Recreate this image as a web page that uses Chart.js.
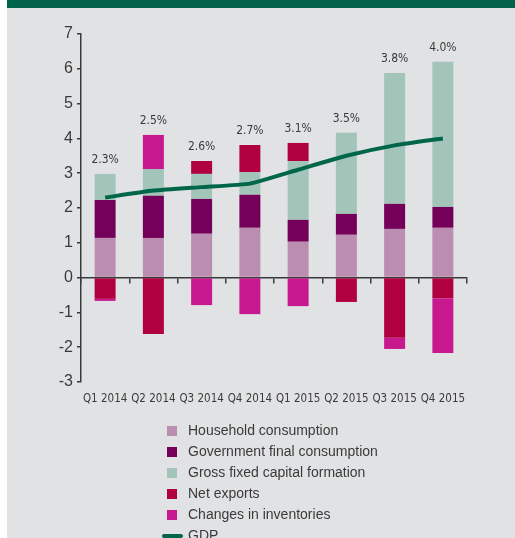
<!DOCTYPE html>
<html>
<head>
<meta charset="utf-8">
<script src="https://cdn.jsdelivr.net/npm/chart.js@4/dist/chart.umd.min.js"></script>
<style>
  html, body { margin:0; padding:0; background:#ffffff; width:515px; height:538px; overflow:hidden; }
  #panel { position:absolute; left:7px; top:0; width:508px; height:538px; background:#e1e2e4; overflow:hidden; }
  #band { position:absolute; left:0; top:0; width:508px; height:8px; background:#00634a; }
  #wrap { position:absolute; left:0; top:8px; width:508px; height:410px; }
  #legend { position:absolute; left:0; top:0; width:508px; height:538px; pointer-events:none; }
  .row { position:absolute; left:181px; height:21px; line-height:21px; font-family:"Liberation Sans", Arial, sans-serif; font-size:14px; color:#3a3a3a; white-space:nowrap; }
  .box { position:absolute; width:10px; height:10px; }
  .ln { position:absolute; width:21px; height:4px; border-radius:2px; }
</style>
</head>
<body>
<div id="panel">
  <div id="band"></div>
  <div id="wrap"><canvas id="c" width="508" height="410"></canvas></div>
  <div id="legend"></div>
</div>
<script>
// ---- data ----
const categories = ['Q1 2014','Q2 2014','Q3 2014','Q4 2014','Q1 2015','Q2 2015','Q3 2015','Q4 2015'];
const household   = [1.14, 1.14, 1.26, 1.43, 1.03, 1.23, 1.40, 1.43];
const government  = [1.09, 1.21, 1.00, 0.95, 0.63, 0.60, 0.72, 0.60];
const grossFixed  = [0.75, 0.77, 0.72, 0.65, 1.69, 2.33, 3.76, 4.17];
const netExports  = [-0.61, -1.62, 0.37, 0.78, 0.52, -0.70, -1.73, -0.59];
const inventories = [-0.06, 0.98, -0.79, -1.05, -0.82, 0.00, -0.32, -1.58];
const gdp         = [2.3, 2.5, 2.6, 2.7, 3.1, 3.5, 3.8, 4.0];
const seriesNames = ['Household consumption','Government final consumption','Gross fixed capital formation','Net exports','Changes in inventories','GDP'];
const yTicks = [-3,-2,-1,0,1,2,3,4,5,6,7];

const colors = ['#bb8db0','#75005a','#a3c4b8','#b0003f','#c8188f','#00664a'];
const narrow = '"DejaVu Sans Condensed", "Liberation Sans", sans-serif';
const textCol = '#3a3a3a';
const axisCol = '#3a3a3a';

const barSeries = [household, government, grossFixed, netExports, inventories];
const datasets = barSeries.map((d, i) => ({
  type: 'bar',
  label: seriesNames[i],
  data: d,
  backgroundColor: colors[i],
  borderWidth: 0,
  stack: 's',
  order: 1,
  barPercentage: 0.435,
  categoryPercentage: 1.0
}));
datasets.push({
  type: 'line',
  label: seriesNames[5],
  data: gdp,
  borderColor: colors[5],
  backgroundColor: colors[5],
  borderWidth: 4,
  pointRadius: 0,
  tension: 0.15,
  stack: 'gdp',
  order: 0
});

const gdpLabels = {
  id: 'gdpLabels',
  afterDatasetsDraw(chart) {
    const ctx = chart.ctx;
    const xs = chart.scales.x, ys = chart.scales.y;
    ctx.save();
    ctx.font = '12px ' + narrow;
    ctx.fillStyle = textCol;
    ctx.textAlign = 'center';
    ctx.textBaseline = 'alphabetic';
    categories.forEach((c, i) => {
      let top = 0;
      barSeries.forEach(s => { if (s[i] > 0) top += s[i]; });
      const x = xs.getPixelForValue(i);
      const y = ys.getPixelForValue(top);
      ctx.fillText(gdp[i].toFixed(1) + '%', x, y - 11);
    });
    ctx.restore();
  }
};

const chart = new Chart(document.getElementById('c'), {
  data: { labels: categories, datasets },
  options: {
    responsive: false,
    devicePixelRatio: 1,
    animation: false,
    layout: { padding: { left: 0, right: 48, top: 26, bottom: 0 } },
    plugins: { legend: { display: false }, tooltip: { enabled: false } },
    scales: {
      x: {
        type: 'category',
        stacked: true,
        position: 'bottom',
        grid: { display: false, drawTicks: false, tickLength: 0 },
        border: { display: false },
        ticks: { color: textCol, font: { family: narrow, size: 11.5 }, padding: 10, maxRotation: 0, autoSkip: false },
        afterFit(s) { s.height = 36; }
      },
      x0: {
        type: 'category',
        labels: categories,
        position: { y: 0 },
        offset: true,
        grid: { display: true, drawOnChartArea: false, drawTicks: true, tickLength: 5, color: axisCol, lineWidth: 1.5, offset: true },
        border: { display: true, color: axisCol, width: 1.5 },
        ticks: { display: false }
      },
      y: {
        stacked: true,
        min: -3,
        max: 7,
        afterBuildTicks(s) { s.ticks = yTicks.map(v => ({ value: v })); },
        grid: { display: true, drawOnChartArea: false, drawTicks: true, tickLength: 4, color: axisCol, lineWidth: 1.5 },
        border: { display: true, color: axisCol, width: 1.5 },
        ticks: { color: textCol, font: { family: '"Liberation Sans", sans-serif', size: 16 }, padding: 4 },
        afterFit(s) { s.width = 74; }
      }
    }
  },
  plugins: [gdpLabels]
});

// legend built from the chart's datasets
const leg = document.getElementById('legend');
chart.data.datasets.forEach((ds, i) => {
  const top = 420 + i * 21;
  const row = document.createElement('div');
  row.className = 'row';
  row.style.top = top + 'px';
  row.textContent = ds.label;
  leg.appendChild(row);
  const m = document.createElement('div');
  if (ds.type === 'line') {
    m.className = 'ln';
    m.style.left = (162 - 7) + 'px';
    m.style.top = (top + 8.5) + 'px';
    m.style.background = ds.borderColor;
  } else {
    m.className = 'box';
    m.style.left = (167 - 7) + 'px';
    m.style.top = (top + 5.5) + 'px';
    m.style.background = ds.backgroundColor;
  }
  leg.appendChild(m);
});
</script>
</body>
</html>
